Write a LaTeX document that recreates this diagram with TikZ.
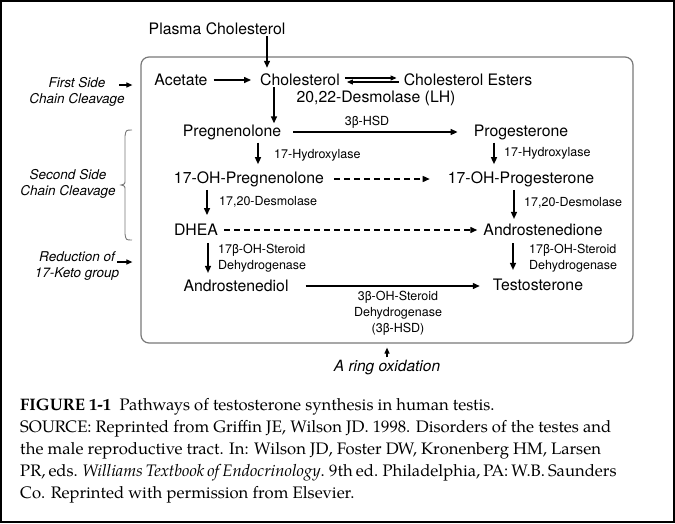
\documentclass[tikz,border=0pt]{standalone}
\usepackage{fontspec}
\usepackage{tikz}
\usetikzlibrary{arrows.meta,calc,positioning}
\newfontfamily\heros{TeX Gyre Heros}
\newfontfamily\pala{texgyrepagella}[Extension=.otf,UprightFont=*-regular,BoldFont=*-bold,ItalicFont=*-italic,BoldItalicFont=*-bolditalic]
\definecolor{boxgray}{RGB}{120,120,120}

\begin{document}
\begin{tikzpicture}[x=1pt,y=-1pt,
    cmpd/.style={font=\fontsize{15.8}{18}\selectfont\heros,inner sep=1pt},
    enz/.style={font=\fontsize{12.5}{16}\selectfont\heros,align=left,inner sep=1pt},
    side/.style={font=\fontsize{13.5}{16.5}\selectfont\heros\itshape,align=center,inner sep=0pt},
    flow/.style={-{Triangle[length=7pt,width=6pt]},line width=1.4pt},
    thinflow/.style={-{Triangle[length=6pt,width=5pt]},line width=1.1pt},
    dflow/.style={flow,dash pattern=on 6pt off 4pt}]
  \useasboundingbox (0,0) rectangle (675,523);
  \draw[line width=2pt] (1,1) rectangle (674,522);
  % cell compartment
  \node[draw=boxgray,line width=1.2pt,rounded corners=8pt,minimum width=492pt,minimum height=286pt,inner sep=0pt] (cell) at (387,200) {};
  % compounds
  \node[cmpd] (plasma) at (217,29) {Plasma Cholesterol};
  \node[cmpd] (acet) at (181,80) {Acetate};
  \node[cmpd] (chol) at (300,80) {Cholesterol};
  \node[cmpd] (ester) at (468,80) {Cholesterol Esters};
  \node[cmpd] (desmo) at (376,98) {20,22-Desmolase (LH)};
  \node[cmpd] (preg) at (232,132) {Pregnenolone};
  \node[cmpd] (prog) at (521,132) {Progesterone};
  \node[cmpd] (ohpreg) at (249,179) {17-OH-Pregnenolone};
  \node[cmpd] (ohprog) at (521,179) {17-OH-Progesterone};
  \node[cmpd] (dhea) at (196,230) {DHEA};
  \node[cmpd] (andro) at (543,230) {Androstenedione};
  \node[cmpd] (diol) at (236,286) {Androstenediol};
  \node[cmpd] (testo) at (538,285) {Testosterone};
  % enzymes
  \node[enz] (hsdtop) at (367,122) {3β-HSD};
  \node[enz,anchor=west] (hydl) at (273,155) {17-Hydroxylase};
  \node[enz,anchor=west] (hydr) at (503,153) {17-Hydroxylase};
  \node[enz,anchor=west] (desl) at (218,202) {17,20-Desmolase};
  \node[enz,anchor=west] (desr) at (523,203) {17,20-Desmolase};
  \node[enz,anchor=west] (dehl) at (217,258) {17β-OH-Steroid\\Dehydrogenase};
  \node[enz,anchor=west] (dehr) at (528,258) {17β-OH-Steroid\\Dehydrogenase};
  \node[enz,align=center] (hsdbot) at (398,313) {3β-OH-Steroid\\Dehydrogenase\\(3β-HSD)};
  % side notes
  \node[side] (first) at (77,92) {First Side\\Chain Cleavage};
  \node[side] (second) at (68,184) {Second Side\\Chain Cleavage};
  \node[side] (reduct) at (77,266) {Reduction of\\17-Keto group};
  \node[cmpd,font=\fontsize{15.5}{18}\selectfont\heros\itshape] (ring) at (387,368) {A ring oxidation};
  \coordinate (firstarr) at (119,85);
  \coordinate (reductarr) at (117,262);
  % pathway arrows
  \draw[flow,shorten >=5pt] ([xshift=50pt]plasma.south) -- ([xshift=50pt]plasma.south |- chol.north);
  \draw[flow,shorten <=5pt,shorten >=8pt] (acet) -- (chol);
  \draw[thinflow,shorten <=4pt,shorten >=6pt] ([yshift=2pt]chol.east) -- ([yshift=2pt]ester.west);
  \draw[thinflow,shorten <=4pt,shorten >=6pt] ([yshift=-2pt]ester.west) -- ([yshift=-2pt]chol.east);
  \draw[flow] ([xshift=-26pt]chol.south) -- ([xshift=-26pt]chol.south |- preg.north);
  \draw[flow,shorten <=11pt,shorten >=15pt] (preg) -- (prog);
  \draw[flow,shorten <=2pt,shorten >=6pt] ([xshift=26pt]preg.south) -- ([xshift=26pt]preg.south |- ohpreg.north);
  \draw[flow,shorten <=2pt,shorten >=6pt] ([xshift=-27pt]prog.south) -- ([xshift=-27pt]prog.south |- ohprog.north);
  \draw[dflow,shorten <=9pt,shorten >=17pt] (ohpreg) -- (ohprog);
  \draw[flow,shorten <=2pt,shorten >=8pt] ([xshift=-42pt]ohpreg.south) -- ([xshift=-42pt]ohpreg.south |- dhea.north);
  \draw[flow,shorten <=2pt,shorten >=4pt] ([xshift=-7pt]ohprog.south) -- ([xshift=-7pt]ohprog.south |- andro.north);
  \draw[dflow,shorten <=5pt,shorten >=5pt] (dhea) -- (andro);
  \draw[flow,shorten <=6pt,shorten >=6pt] ([xshift=12pt]dhea.south) -- ([xshift=12pt]dhea.south |- diol.north);
  \draw[flow,shorten <=6pt,shorten >=8pt] ([xshift=-30pt]andro.south) -- ([xshift=-30pt]andro.south |- testo.north);
  \draw[flow,shorten <=16pt,shorten >=12pt] (diol) -- (diol -| testo.west);
  % side arrows
  \draw[thinflow,shorten >=8pt] (firstarr) -- (firstarr -| cell.west);
  \draw[thinflow,shorten >=8pt] (reductarr) -- (reductarr -| cell.west);
  \draw[thinflow,shorten <=2pt,shorten >=4pt] (ring.north) -- (ring.north |- cell.south);
  \draw[boxgray,line width=0.9pt] (132,130) .. controls (126,130) .. (125,136) -- (125,180)
    .. controls (125,184) .. (121,185) .. controls (125,186) .. (125,190) -- (125,234)
    .. controls (126,240) .. (132,240);
  % caption
  \node[anchor=north west,align=left,inner sep=0pt,font=\fontsize{16.65}{22}\selectfont\pala] (capt) at (20,398)
    {\textbf{FIGURE 1-1}\ \ Pathways of testosterone synthesis in human testis.\\
     SOURCE: Reprinted from Griffin JE, Wilson JD. 1998. Disorders of the testes and\\
     the male reproductive tract. In: Wilson JD, Foster DW, Kronenberg HM, Larsen\\
     {\spaceskip=0.18em PR, eds. \textit{Williams Textbook of Endocrinology}. 9th ed. Philadelphia, PA: W.B. Saunders}\\
     Co. Reprinted with permission from Elsevier.};
\end{tikzpicture}
\end{document}
